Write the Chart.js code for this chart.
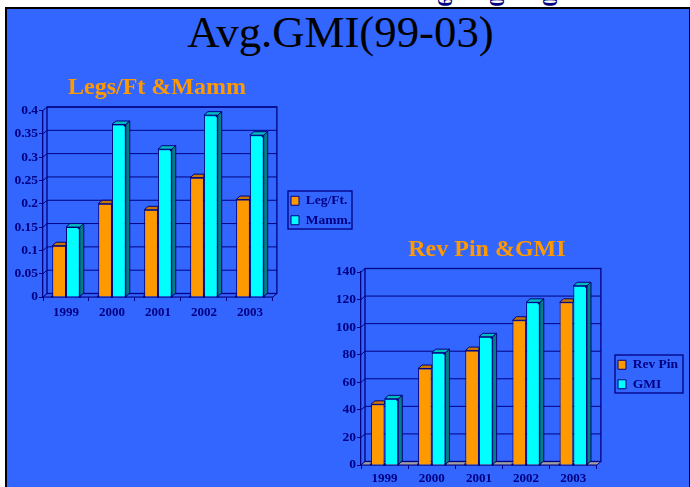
<!DOCTYPE html>
<html>
<head>
<meta charset="utf-8">
<title>Avg.GMI(99-03)</title>
<script src="https://cdn.jsdelivr.net/npm/chart.js@4"></script>
<style>
  html, body { margin: 0; padding: 0; background: #fff; overflow: hidden; }
  body { width: 690px; height: 487px; position: relative; font-family: "Liberation Serif", serif; }
  .stray { position: absolute; top: -10px; color: #000080; font: bold 20px "Liberation Serif", serif; transform: rotate(90deg); transform-origin: center; }
  #slide { position: absolute; left: 5px; top: 7px; width: 685px; height: 490px; background: #3366ff; border-left: 2px solid #000; border-top: 2px solid #000; border-right: 1px solid #000050; box-sizing: border-box; }
  #heading { position: absolute; left: 0; top: 7px; width: 681px; text-align: center; margin: 0; font: normal 44.8px/50px "Liberation Serif", serif; color: #000; }
  .box { position: absolute; }
</style>
</head>
<body>
<span class="stray" style="left:439px">9</span>
<span class="stray" style="left:491px">0</span>
<span class="stray" style="left:544px">0</span>
<div id="slide"></div>
<h1 id="heading">Avg.GMI(99-03)</h1>
<div class="box" style="left:10px;top:70px;width:350px;height:260px"><canvas id="legs"></canvas></div>
<div class="box" style="left:325px;top:228px;width:365px;height:259px"><canvas id="rev"></canvas></div>
<script>
// datos
const years = ['1999', '2000', '2001', '2002', '2003'];
const legFt = [0.11, 0.2, 0.187, 0.256, 0.209];
const mamm = [0.15, 0.37, 0.317, 0.39, 0.347];
const revPin = [44, 70, 83, 105, 118];
const gmi = [48, 81.5, 93, 118, 130];

const NAVY = '#000080';
const ORANGE = '#ff9900';
const CYAN = '#00ffff';
const SERIF = '"Liberation Serif", serif';
const DEPTH_X = 4;
const DEPTH_Y = 3.5;

Chart.defaults.animation = false;
Chart.defaults.responsive = false;

// pared del fondo, suelo y cuadricula en perspectiva
const wallPlugin = {
  id: 'wall',
  beforeDatasetsDraw(chart, args, opts) {
    const { ctx, chartArea: a, scales: { y } } = chart;
    ctx.save();
    ctx.strokeStyle = NAVY;
    ctx.lineWidth = 1;
    y.ticks.forEach(t => {
      const py = y.getPixelForValue(t.value);
      ctx.beginPath();
      ctx.moveTo(a.left, py);
      ctx.lineTo(a.left + DEPTH_X, py - DEPTH_Y);
      ctx.lineTo(a.right + DEPTH_X, py - DEPTH_Y);
      ctx.stroke();
    });
    ctx.beginPath();
    ctx.moveTo(a.left + DEPTH_X, a.bottom - DEPTH_Y);
    ctx.lineTo(a.right + DEPTH_X, a.bottom - DEPTH_Y);
    ctx.lineTo(a.right, a.bottom);
    ctx.lineTo(a.left, a.bottom);
    ctx.closePath();
    ctx.fillStyle = opts.floor;
    ctx.fill();
    ctx.stroke();
    ctx.lineWidth = 1.3;
    ctx.strokeRect(a.left + DEPTH_X, a.top - DEPTH_Y, a.right - a.left, a.bottom - a.top);
    ctx.restore();
  },
  // la serie naranja se pinta encima: su cara superior no pasa del borde derecho
  afterDatasetDraw(chart, args) {
    const { ctx } = chart;
    const ds = chart.data.datasets[args.index];
    ctx.save();
    ctx.strokeStyle = NAVY;
    ctx.lineWidth = 1;
    args.meta.data.forEach(bar => {
      const l = bar.x - bar.width / 2;
      const r = bar.x + bar.width / 2;
      const topRight = ds.sideColor ? r + DEPTH_X : r;
      ctx.fillStyle = ds.topColor;
      ctx.beginPath();
      ctx.moveTo(l, bar.y);
      ctx.lineTo(l + DEPTH_X, bar.y - DEPTH_Y);
      ctx.lineTo(topRight, bar.y - DEPTH_Y);
      ctx.lineTo(r, bar.y);
      ctx.closePath();
      ctx.fill();
      ctx.stroke();
      if (ds.sideColor) {
        ctx.fillStyle = ds.sideColor;
        ctx.beginPath();
        ctx.moveTo(r, bar.y);
        ctx.lineTo(r + DEPTH_X, bar.y - DEPTH_Y);
        ctx.lineTo(r + DEPTH_X, bar.base - DEPTH_Y);
        ctx.lineTo(r, bar.base);
        ctx.closePath();
        ctx.fill();
        ctx.stroke();
        // puntito oscuro de la esquina
        ctx.fillStyle = NAVY;
        ctx.fillRect(r - 2, bar.y, 2, 2);
      }
      // marcas en la base de las barras
      ctx.fillStyle = NAVY;
      ctx.fillRect(l - 1, bar.base - 1, 2, 2);
      ctx.fillRect(r - 1, bar.base - 1, 2, 2);
    });
    ctx.restore();
  },
  afterDraw(chart, args, opts) {
    const { ctx } = chart;
    const b = opts.legendBox;
    ctx.save();
    ctx.strokeStyle = NAVY;
    ctx.lineWidth = 1.3;
    ctx.strokeRect(b.x, b.y, b.w, b.h);
    ctx.restore();
  },
  // coloca leyenda y titulo donde estan en el original
  afterLayout(chart, args, opts) {
    const leg = chart.legend;
    const b = opts.legendBox;
    leg.left = b.x - 3;
    leg.right = b.x + b.w;
    leg.width = b.w + 3;
    leg.top = b.y - 3;
    leg.bottom = chart.height;
    leg.height = leg.bottom - leg.top;
    chart.titleBlock.left += opts.titleShift;
    chart.titleBlock.right += opts.titleShift;
  }
};

function makeChart(id, cfg) {
  const canvas = document.getElementById(id);
  canvas.width = cfg.width;
  canvas.height = cfg.height;
  return new Chart(canvas, {
    type: 'bar',
    data: {
      labels: years,
      datasets: [
        { label: cfg.names[0], data: cfg.series[0], backgroundColor: ORANGE, topColor: '#c67700' },
        { label: cfg.names[1], data: cfg.series[1], backgroundColor: CYAN, topColor: '#00bcbc', sideColor: '#008080' }
      ]
    },
    plugins: [wallPlugin],
    options: {
      responsive: false,
      layout: { padding: { top: cfg.padTop, right: cfg.padRight, left: 0, bottom: 0 } },
      datasets: { bar: { barPercentage: 1, categoryPercentage: cfg.catPct, borderWidth: 1, borderColor: NAVY } },
      scales: {
        x: {
          grid: { drawOnChartArea: false, color: NAVY, tickLength: 4 },
          border: { color: NAVY, width: 1.3 },
          ticks: { color: NAVY, font: { family: SERIF, weight: 'bold', size: 13 }, padding: cfg.xPad, maxRotation: 0 },
          afterFit(s) { s.height = cfg.xHeight; }
        },
        y: {
          min: 0,
          max: cfg.max,
          grid: { drawOnChartArea: false, color: NAVY, tickLength: 4 },
          border: { color: NAVY, width: 1.3 },
          ticks: {
            stepSize: cfg.step,
            color: NAVY,
            font: { family: SERIF, weight: 'bold', size: 13.5 },
            padding: 1,
            callback: v => String(Number(v.toFixed(2)))
          },
          afterFit(s) { s.width = cfg.yWidth; }
        }
      },
      plugins: {
        tooltip: { enabled: false },
        title: {
          display: true,
          fullSize: false,
          text: cfg.title,
          color: ORANGE,
          font: { family: SERIF, weight: 'bold', size: 24 },
          padding: { top: cfg.titleTop, bottom: 8 }
        },
        legend: {
          position: 'right',
          align: 'start',
          labels: { boxWidth: 8, boxHeight: 9, padding: 6, color: NAVY, font: { family: SERIF, weight: 'bold', size: 13.5 } }
        },
        wall: { floor: cfg.floor, legendBox: cfg.legendBox, titleShift: cfg.titleShift }
      }
    }
  });
}

makeChart('legs', {
  width: 350, height: 260,
  title: 'Legs/Ft &Mamm',
  names: ['Leg/Ft.', 'Mamm.'],
  series: [legFt, mamm],
  max: 0.4, step: 0.05,
  padTop: 0.7, padRight: 11,
  titleTop: 3, titleShift: -1,
  xHeight: 33, xPad: 4, yWidth: 33,
  catPct: 0.6,
  floor: '#3366ff',
  legendBox: { x: 278, y: 121, w: 64, h: 38 }
});

makeChart('rev', {
  width: 365, height: 259,
  title: 'Rev Pin &GMI',
  names: ['Rev Pin', 'GMI'],
  series: [revPin, gmi],
  max: 140, step: 20,
  padTop: 1.2, padRight: 17,
  titleTop: 6, titleShift: 8,
  xHeight: 22, xPad: 2, yWidth: 36,
  catPct: 0.58,
  floor: '#a0a0a0',
  legendBox: { x: 290, y: 127, w: 68, h: 38 }
});
</script>
</body>
</html>
